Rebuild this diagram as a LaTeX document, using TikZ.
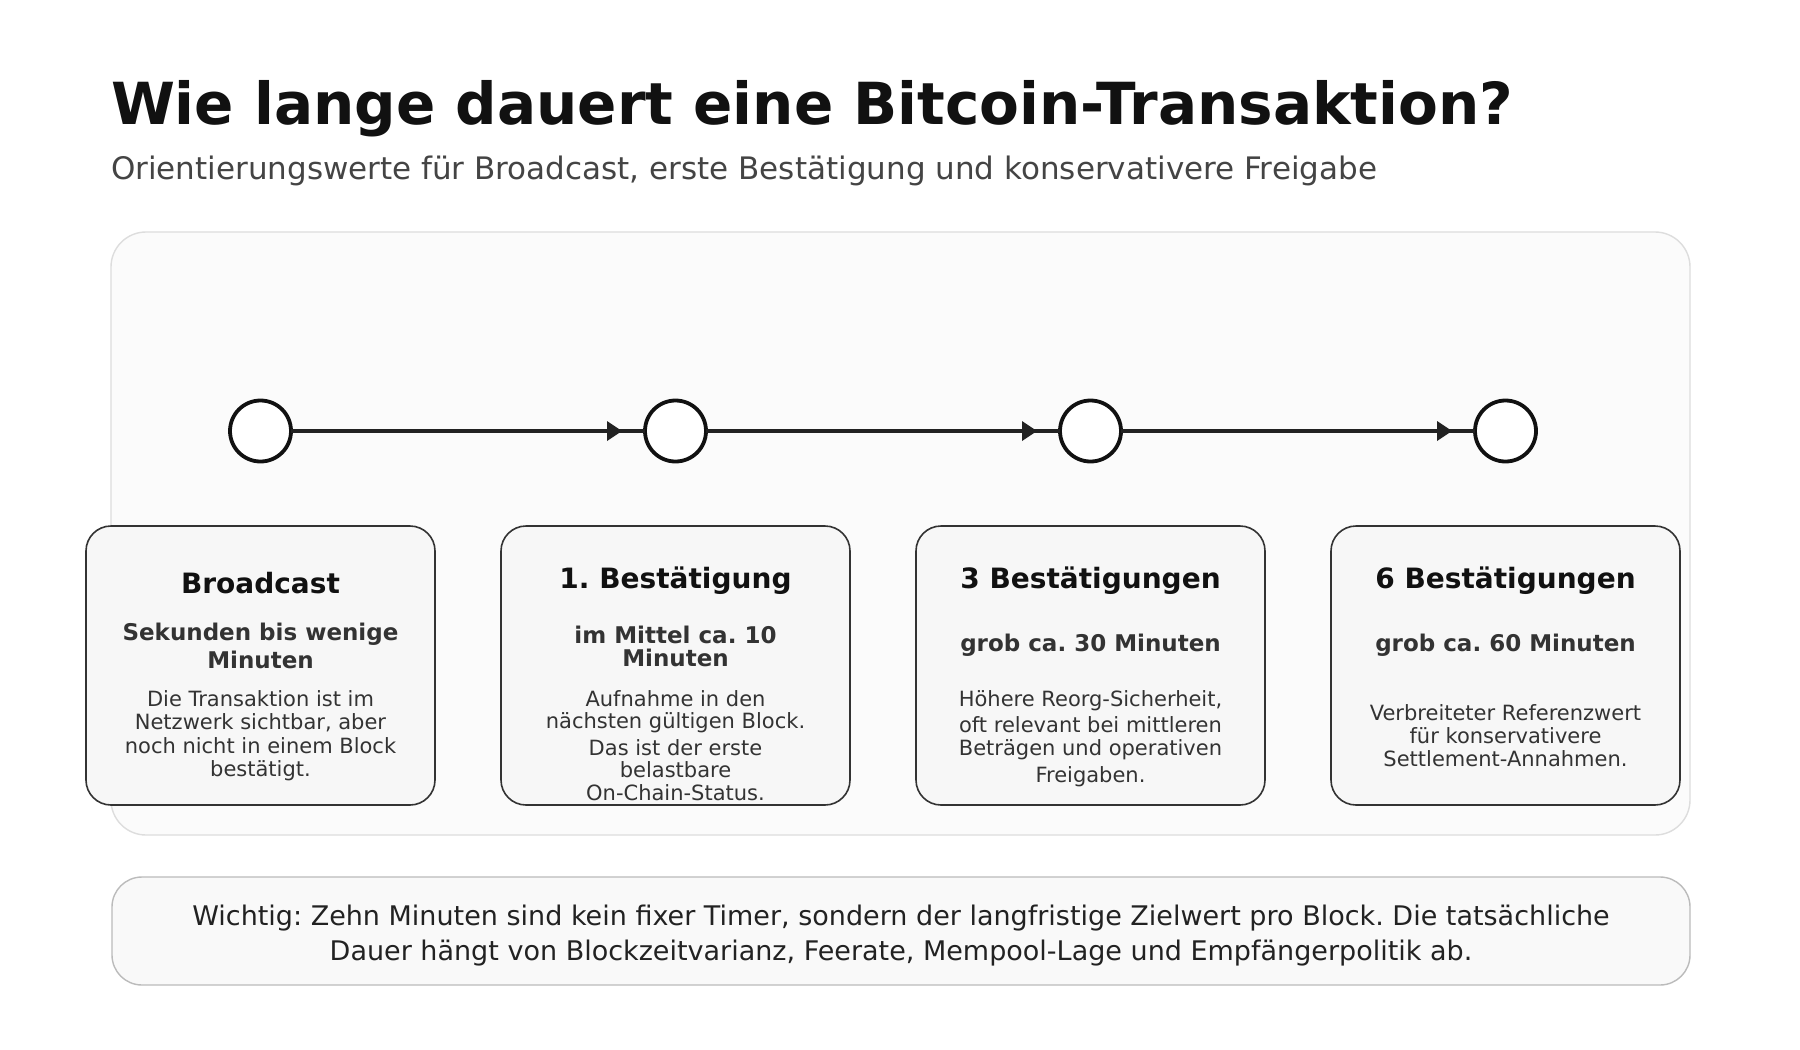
\documentclass[tikz,border=0pt]{standalone}
\usepackage{fontspec}
\setmainfont{DejaVu Sans}
\usetikzlibrary{arrows.meta}
\frenchspacing
\definecolor{ctitle}{HTML}{111111}
\definecolor{csub}{HTML}{444444}
\definecolor{cbody}{HTML}{333333}
\definecolor{cpanel}{HTML}{FBFBFB}
\definecolor{cpanelb}{HTML}{DDDDDD}
\definecolor{cbox}{HTML}{F7F7F7}
\definecolor{cboxb}{HTML}{333333}
\definecolor{cnote}{HTML}{F9F9F9}
\definecolor{cnoteb}{HTML}{BBBBBB}
\definecolor{cline}{HTML}{222222}
\tikzset{
  every node/.style={inner sep=0pt, outer sep=0pt},
  heading/.style={anchor=base, text=ctitle, font=\fontsize{28}{33}\selectfont\bfseries},
  subhead/.style={anchor=base, text=cbody, font=\fontsize{23}{27}\selectfont\bfseries},
  bodytxt/.style={anchor=base, text=cbody, font=\fontsize{21}{25}\selectfont},
  notetxt/.style={anchor=base, text=cline, font=\fontsize{27}{32}\selectfont},
  stepcard/.style={draw=cboxb, line width=1.6pt, fill=cbox, rounded corners=25pt},
  milestone/.style={circle, draw=ctitle, line width=3.8pt, fill=white, minimum size=61pt},
  conn/.style={draw=cline, line width=3.8pt},
}
\begin{document}
\begin{tikzpicture}[x=1pt,y=-1pt]
\useasboundingbox (0,0) rectangle (1800,1050);
\fill[white] (0,0) rectangle (1800,1050);
% title
\node[anchor=base west, text=ctitle, font=\fontsize{58}{68}\selectfont\bfseries] (title) at (111,124) {Wie lange dauert eine Bitcoin-Transaktion?};
\node[anchor=base west, text=csub, font=\fontsize{31}{36}\selectfont] (subtitle) at (111,179) {Orientierungswerte für Broadcast, erste Bestätigung und konservativere Freigabe};
% panel
\draw[draw=cpanelb, line width=1.4pt, fill=cpanel, rounded corners=35pt] (111,232) rectangle (1690,835);
% cards
\foreach \x in {86,501,916,1331}{
  \draw[stepcard] (\x,526) rectangle ++(349,279);
}
% milestones
\node[milestone] (m1) at (260.5,431) {};
\node[milestone] (m2) at (675.5,431) {};
\node[milestone] (m3) at (1090.5,431) {};
\node[milestone] (m4) at (1505.5,431) {};
\coordinate (t2) at ([xshift=-23pt]m2.west);
\coordinate (t3) at ([xshift=-23pt]m3.west);
\coordinate (t4) at ([xshift=-23pt]m4.west);
\draw[conn] (m1.east) -- (m2.west);
\draw[conn] (m2.east) -- (m3.west);
\draw[conn] (m3.east) -- (m4.west);
\foreach \t in {t2,t3,t4}{
  \fill[cline] (\t) -- ++(-15,-10) -- ++(0,20) -- cycle;
}
% card 1
\node[heading] (h1) at (260.5,593.5) {Broadcast};
\node[subhead] (s1a) at (260.5,640.5) {Sekunden bis wenige};
\node[subhead] (s1b) at (260.5,668.5) {Minuten};
\node[bodytxt] (b1a) at (260.5,706.5) {Die Transaktion ist im};
\node[bodytxt] (b1b) at (260.5,729.5) {Netzwerk sichtbar, aber};
\node[bodytxt] (b1c) at (260.5,753.5) {noch nicht in einem Block};
\node[bodytxt] (b1d) at (260.5,776.5) {bestätigt.};
% card 2
\node[heading] (h2) at (675.5,588.5) {1. Bestätigung};
\node[subhead] (s2a) at (675.5,643.5) {im Mittel ca. 10};
\node[subhead] (s2b) at (675.5,666.5) {Minuten};
\node[bodytxt] (b2a) at (675.5,706.5) {Aufnahme in den};
\node[bodytxt] (b2b) at (675.5,728.5) {nächsten gültigen Block.};
\node[bodytxt] (b2c) at (675.5,755.5) {Das ist der erste};
\node[bodytxt] (b2d) at (675.5,777.5) {belastbare};
\node[bodytxt] (b2e) at (675.5,800.5) {On-Chain-Status.};
% card 3
\node[heading] (h3) at (1090.5,588.5) {3 Bestätigungen};
\node[subhead] (s3a) at (1090.5,651.5) {grob ca. 30 Minuten};
\node[bodytxt] (b3a) at (1090.5,706.5) {Höhere Reorg-Sicherheit,};
\node[bodytxt] (b3b) at (1090.5,732.5) {oft relevant bei mittleren};
\node[bodytxt] (b3c) at (1090.5,755.5) {Beträgen und operativen};
\node[bodytxt] (b3d) at (1090.5,782.5) {Freigaben.};
% card 4
\node[heading] (h4) at (1505.5,588.5) {6 Bestätigungen};
\node[subhead] (s4a) at (1505.5,651.5) {grob ca. 60 Minuten};
\node[bodytxt] (b4a) at (1505.5,720.5) {Verbreiteter Referenzwert};
\node[bodytxt] (b4b) at (1505.5,743.5) {für konservativere};
\node[bodytxt] (b4c) at (1505.5,766.5) {Settlement-Annahmen.};
% note
\draw[draw=cnoteb, line width=1.4pt, fill=cnote, rounded corners=30pt] (112,877) rectangle (1690,985);
\node[notetxt] (n1) at (901,925) {Wichtig: Zehn Minuten sind kein fixer Timer, sondern der langfristige Zielwert pro Block. Die tatsächliche};
\node[notetxt] (n2) at (901,960) {Dauer hängt von Blockzeitvarianz, Feerate, Mempool-Lage und Empfängerpolitik ab.};
\end{tikzpicture}
\end{document}
